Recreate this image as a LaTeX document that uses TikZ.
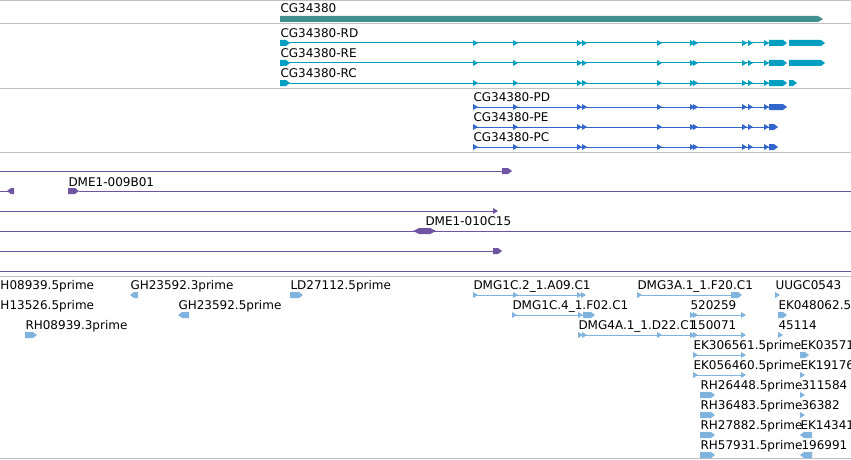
\documentclass[tikz,border=0pt]{standalone}
\usepackage{fontspec}
\setmainfont{DejaVu Sans}
\definecolor{sepgrey}{RGB}{192,192,192}
\definecolor{genecol}{RGB}{64,144,144}
\definecolor{mrnacol}{RGB}{0,158,192}
\definecolor{protcol}{RGB}{51,102,204}
\definecolor{bacpurple}{RGB}{112,84,164}
\definecolor{estblue}{RGB}{128,180,222}

% block pointing right / left: colour, x from, x to, y
\newcommand{\blockR}[4]{\fill[#1] (#2,#4-3) -- (#3-4,#4-3) -- (#3,#4) -- (#3-4,#4+3) -- (#2,#4+3) -- cycle;}
\newcommand{\blockL}[4]{\fill[#1] (#2,#4) -- (#2+4,#4-3) -- (#3,#4-3) -- (#3,#4+3) -- (#2+4,#4+3) -- cycle;}
% small exon flag: colour, x, y
\newcommand{\flag}[3]{\fill[#1] (#2,#3-3) -- (#2+5,#3) -- (#2,#3+3) -- cycle;}

\begin{document}
\begin{tikzpicture}[x=1pt, y=-1pt, line width=1pt,
    lbl/.style={anchor=base west, inner sep=0pt, font=\fontsize{12}{14}\selectfont}]
    \useasboundingbox (0,0) rectangle (851,460);
    \clip (0,0) rectangle (851,460);

    % Track separators
    \foreach \y in {1,24,88,152,276,458}
        \draw[sepgrey] (0,\y) -- (851,\y);

    % Gene
    \node[lbl] (gene) at (280,12.5) {CG34380};
    \fill[genecol] (280,16) -- (818,16) -- (823,19) -- (818,22) -- (280,22) -- cycle;

    % Transcripts
    \node[lbl] (rd) at (280,37.5) {CG34380-RD};
    \node[lbl] (re) at (280,57.5) {CG34380-RE};
    \node[lbl] (rc) at (280,77.5) {CG34380-RC};
    \foreach \y in {43,63,83} {
        \draw[mrnacol] (280,\y) -- (769,\y);
        \blockR{mrnacol}{280}{290}{\y}
        \foreach \x in {473,513,577,582,657,690,693,742,748,764}
            {\flag{mrnacol}{\x}{\y}}
    }
    \foreach \y in {43,63} {
        \blockR{mrnacol}{769}{787}{\y}
        \blockR{mrnacol}{789}{825}{\y}
    }
    \blockR{mrnacol}{769}{787}{83}
    \blockR{mrnacol}{789}{797}{83}

    % Proteins
    \node[lbl] (pd) at (473,101.5) {CG34380-PD};
    \node[lbl] (pe) at (473,121.5) {CG34380-PE};
    \node[lbl] (pc) at (473,141.5) {CG34380-PC};
    \foreach \y in {107,127,147} {
        \draw[protcol] (473,\y) -- (769,\y);
        \foreach \x in {473,513,577,582,657,690,693,742,748,764}
            {\flag{protcol}{\x}{\y}}
    }
    \blockR{protcol}{769}{787}{107}
    \blockR{protcol}{769}{778}{127}
    \blockR{protcol}{769}{778}{147}

    % BAC ends
    \draw[bacpurple] (0,171) -- (505,171);
    \blockR{bacpurple}{502}{512}{171}
    \draw[bacpurple] (0,191) -- (10,191);
    \blockL{bacpurple}{7}{14}{191}
    \node[lbl] (dmeA) at (68,186) {DME1-009B01};
    \blockR{bacpurple}{68}{79}{191}
    \draw[bacpurple] (79,191) -- (851,191);
    \draw[bacpurple] (0,211) -- (494,211);
    \flag{bacpurple}{493}{211}
    \node[lbl] (dmeB) at (425,225.5) {DME1-010C15};
    \draw[bacpurple] (0,231) -- (851,231);
    \fill[bacpurple] (413,231) -- (419,228) -- (430,228) -- (436,231) -- (430,234) -- (419,234) -- cycle;
    \draw[bacpurple] (0,251) -- (494,251);
    \blockR{bacpurple}{493}{502}{251}
    \draw[bacpurple] (0,271) -- (851,271);

    % ESTs, row 1
    \node[lbl] (rhA) at (0,289) {H08939.5prime};
    \node[lbl] (ghA) at (130,289) {GH23592.3prime};
    \blockL{estblue}{130}{138}{295}
    \node[lbl] (ld) at (290,289) {LD27112.5prime};
    \blockR{estblue}{290}{303}{295}
    \node[lbl] (dmgA) at (473,289) {DMG1C.2\_1.A09.C1};
    \draw[estblue] (473,295) -- (583,295);
    \foreach \x in {473,513,577,581} {\flag{estblue}{\x}{295}}
    \node[lbl] (dmgB) at (637,289) {DMG3A.1\_1.F20.C1};
    \draw[estblue] (637,295) -- (733,295);
    \flag{estblue}{637}{295}
    \blockR{estblue}{731}{742}{295}
    \node[lbl] (uugc) at (775,289) {UUGC0543};
    \flag{estblue}{775}{295}

    % ESTs, row 2
    \node[lbl] (rhB) at (0,309) {H13526.5prime};
    \node[lbl] (ghB) at (178,309) {GH23592.5prime};
    \blockL{estblue}{178}{189}{315}
    \node[lbl] (dmgC) at (512,309) {DMG1C.4\_1.F02.C1};
    \draw[estblue] (512,315) -- (583,315);
    \flag{estblue}{512}{315}
    \flag{estblue}{578}{315}
    \blockR{estblue}{583}{595}{315}
    \node[lbl] (cA) at (690,309) {520259};
    \draw[estblue] (690,315) -- (744,315);
    \foreach \x in {690,693,741} {\flag{estblue}{\x}{315}}
    \node[lbl] (ekA) at (778,309) {EK048062.5};
    \blockR{estblue}{778}{787}{315}

    % ESTs, row 3
    \node[lbl] (rhC) at (25,329) {RH08939.3prime};
    \blockR{estblue}{25}{37}{335}
    \node[lbl] (dmgD) at (578,329) {DMG4A.1\_1.D22.C1};
    \draw[estblue] (578,335) -- (690,335);
    \foreach \x in {578,582,657} {\flag{estblue}{\x}{335}}
    \node[lbl] (cB) at (690,329) {150071};
    \draw[estblue] (690,335) -- (744,335);
    \foreach \x in {690,693,741} {\flag{estblue}{\x}{335}}
    \node[lbl] (cC) at (778,329) {45114};
    \flag{estblue}{778}{335}

    % ESTs, rows 4 and 5
    \node[lbl] (ekB) at (693,349) {EK306561.5prime};
    \node[lbl] (ekC) at (693,369) {EK056460.5prime};
    \foreach \y in {355,375} {
        \draw[estblue] (693,\y) -- (744,\y);
        \flag{estblue}{693}{\y}
        \flag{estblue}{741}{\y}
    }
    \node[lbl] (ekD) at (800,349) {EK03571};
    \blockR{estblue}{800}{809}{355}
    \node[lbl] (ekE) at (800,369) {EK19176};
    \flag{estblue}{800}{375}

    % ESTs, rows 6 to 9
    \node[lbl] (rhD) at (700,389) {RH26448.5prime};
    \node[lbl] (rhE) at (700,409) {RH36483.5prime};
    \node[lbl] (rhF) at (700,429) {RH27882.5prime};
    \node[lbl] (rhG) at (700,449) {RH57931.5prime};
    \foreach \y in {395,415,435,455}
        {\blockR{estblue}{700}{715}{\y}}
    \node[lbl] (cD) at (801,389) {311584};
    \flag{estblue}{800}{395}
    \node[lbl] (cE) at (801,409) {36382};
    \flag{estblue}{800}{415}
    \node[lbl] (ekF) at (800,429) {EK14341};
    \blockL{estblue}{800}{812}{435}
    \node[lbl] (cF) at (801,449) {196991};
    \blockL{estblue}{800}{812}{455}
\end{tikzpicture}
\end{document}
